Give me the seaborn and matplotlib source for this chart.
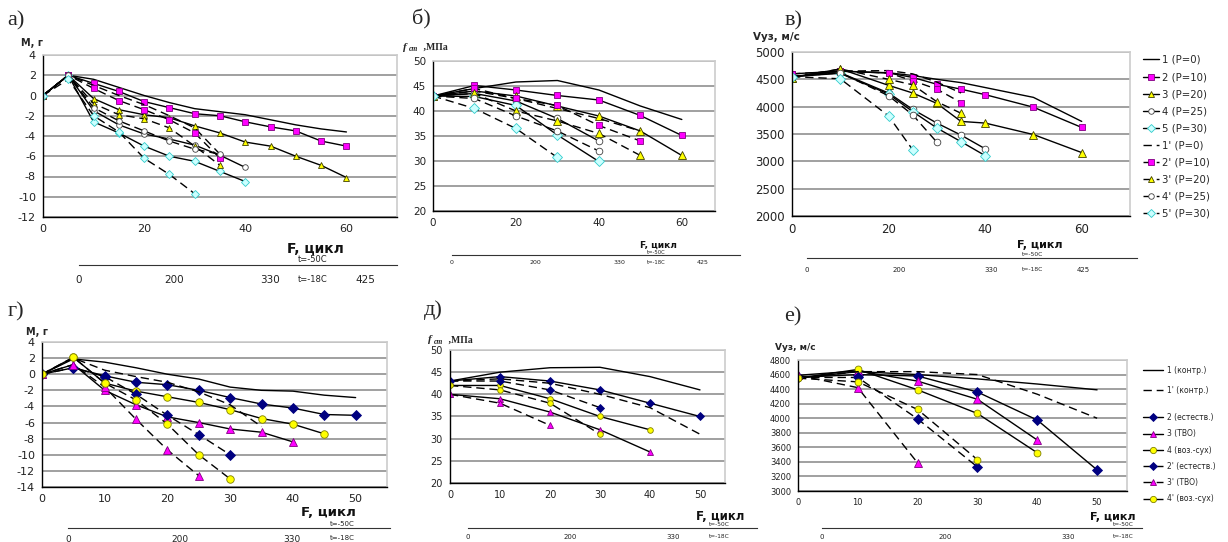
import matplotlib.pyplot as plt
import seaborn as sns
from matplotlib.lines import Line2D

# а) mass change M, г vs cycles F
a_x = [0, 5, 10, 15, 20, 25, 30, 35, 40, 45, 50, 55, 60]
a_1 = [0, 2.0, 1.6, 0.8, 0.0, -0.7, -1.3, -1.6, -1.9, -2.4, -2.9, -3.3, -3.6]
a_2 = [0, 2.0, 1.2, 0.4, -0.6, -1.2, -1.8, -2.0, -2.6, -3.1, -3.5, -4.5, -5.0]
a_3 = [0, 2.0, -0.3, -1.4, -1.9, -2.2, -3.0, -3.7, -4.6, -5.0, -6.0, -6.9, -8.1]
a_4 = [0, 2.0, -1.5, -2.9, -3.8, -4.3, -4.9, -5.9, -7.1]
a_5 = [0, 2.0, -2.6, -3.7, -5.0, -6.0, -6.5, -7.5, -8.5]
a_1d = [0, 2.0, 1.0, 0.0, -0.9, -2.0, -3.2, -5.8]
a_2d = [0, 2.0, 0.7, -0.5, -1.4, -2.4, -3.7, -6.2]
a_3d = [0, 2.0, -0.8, -1.9, -2.3, -3.2, -5.0, -6.9]
a_4d = [0, 2.0, -1.2, -2.5, -3.5, -4.5, -5.3, -5.8]
a_5d = [0, 1.6, -2.0, -3.6, -6.2, -7.8, -9.7]

# б) strength f_cm, МПа
b_x = [0, 10, 20, 30, 40, 50, 60]
b_1 = [43, 44.5, 45.8, 46.1, 44.2, 41.0, 38.3]
b_2 = [43, 45.1, 44.2, 43.1, 42.2, 39.1, 35.1]
b_3 = [43, 44.0, 43.0, 41.0, 39.0, 36.0, 31.1]
b_4 = [43, 43.5, 42.0, 38.5, 34.0]
b_5 = [43, 42.9, 41.1, 35.2, 29.9]
b_1d = [43, 44.0, 42.5, 40.5, 38.5, 36.0]
b_2d = [43, 44.5, 42.5, 41.1, 37.1, 34.0]
b_3d = [43, 43.5, 40.0, 38.0, 35.5, 31.1]
b_4d = [43, 42.5, 39.0, 36.0, 32.0]
b_5d = [43, 40.5, 36.5, 30.7]

# в) ultrasonic velocity Vуз, м/с
v_x = [0, 10, 20, 25, 30, 35, 40, 50, 60]
v_1 = [4550, 4650, 4620, 4570, 4500, 4440, 4350, 4170, 3730]
v_2 = [4600, 4650, 4615, 4535, 4410, 4320, 4220, 3990, 3620]
v_3 = [4530, 4690, 4390, 4250, 4060, 3730, 3700, 3490, 3160]
v_4 = [4550, 4620, 4250, 3950, 3700, 3480, 3230]
v_5 = [4550, 4610, 4230, 3910, 3610, 3360, 3105]
v_1d = [4550, 4650, 4660, 4600, 4450, 4250]
v_2d = [4600, 4650, 4615, 4475, 4320, 4075]
v_3d = [4530, 4690, 4500, 4400, 4090, 3880]
v_4d = [4550, 4620, 4200, 3850, 3350]
v_5d = [4550, 4510, 3830, 3210]

# г) mass change, curing modes
g_x = [0, 5, 10, 15, 20, 25, 30, 35, 40, 45, 50]
g_1 = [0, 1.9, 1.5, 0.8, 0.0, -0.6, -1.6, -2.0, -2.1, -2.6, -2.9]
g_2 = [0, 0.8, -0.2, -1.0, -1.3, -2.0, -2.9, -3.7, -4.2, -5.0, -5.1]
g_3 = [0, 1.2, -2.0, -3.8, -5.3, -6.0, -6.8, -7.2, -8.4]
g_4 = [0, 2.1, -1.1, -2.1, -2.8, -3.5, -4.4, -5.5, -6.2, -7.4]
g_1d = [0, 2.0, 0.5, -0.3, -1.0, -2.2, -3.8, -6.5]
g_2d = [0, 0.8, -0.3, -2.5, -5.1, -7.5, -10.0]
g_3d = [0, 1.2, -1.6, -5.6, -9.4, -12.6]
g_4d = [0, 2.1, -1.1, -3.2, -6.2, -10.0, -13.0]

# д) strength, curing modes
d_x = [0, 10, 20, 30, 40, 50]
d_1 = [43, 45, 46, 46.1, 44, 41]
d_2 = [43, 44, 43, 41, 38, 35]
d_3 = [40, 39, 36, 32, 27]
d_4 = [42, 42, 39, 35, 32]
d_1d = [43, 43.5, 42.5, 40, 37, 31]
d_2d = [43, 43, 41, 37]
d_3d = [40, 38, 33]
d_4d = [42, 41, 38, 31]

# е) ultrasonic velocity, curing modes
e_x = [0, 10, 20, 30, 40, 50]
e_1 = [4550, 4640, 4600, 4540, 4470, 4390]
e_2 = [4560, 4600, 4580, 4360, 3975, 3290]
e_3 = [4590, 4650, 4510, 4260, 3700]
e_4 = [4550, 4670, 4390, 4065, 3525]
e_1d = [4550, 4640, 4640, 4600, 4330, 4000]
e_2d = [4560, 4560, 3990, 3330]
e_3d = [4590, 4420, 3385]
e_4d = [4550, 4500, 4120, 3430]

v_labels = ['1 (P=0)', '2 (P=10)', '3 (P=20)', '4 (P=25)', '5 (P=30)',
            "1' (P=0)", "2' (P=10)", "3' (P=20)", "4' (P=25)", "5' (P=30)"]
e_labels1 = ['1 (контр.)', "1' (контр.)"]
e_labels2 = ['2 (естеств.)', '3 (ТВО)', '4 (воз.-сух)',
             "2' (естеств.)", "3' (ТВО)", "4' (воз.-сух)"]
cyc_top = ['0', '200', '330', '425']
cyc_bot = ['0', '200', '330']

sns.set_style('white')
plt.rcParams['font.family'] = ['DejaVu Sans']
plt.rcParams['axes.unicode_minus'] = False

W, H = 1228, 542
fig = plt.figure(figsize=(W / 100, H / 100), dpi=100)

DASH = (0, (6, 3.5))
top_sty = {
    '1': dict(marker=None),
    '2': dict(marker='s', markersize=4, markerfacecolor='#FF00FF', markeredgecolor='#800080'),
    '3': dict(marker='^', markersize=4.5, markerfacecolor='#FFFF00', markeredgecolor='#404000'),
    '4': dict(marker='o', markersize=4, markerfacecolor='white', markeredgecolor='#404040'),
    '5': dict(marker='D', markersize=4, markerfacecolor='#CCFFFF', markeredgecolor='#33CCCC'),
}
bot_sty = {
    '1': dict(marker=None),
    '2': dict(marker='D', markersize=4.5, markerfacecolor='#000080', markeredgecolor='#000080'),
    '3': dict(marker='^', markersize=5, markerfacecolor='#FF00FF', markeredgecolor='#800080'),
    '4': dict(marker='o', markersize=4.5, markerfacecolor='#FFFF00', markeredgecolor='#808000'),
}


def px_axes(l, t, r, b):
    return fig.add_axes([l / W, 1 - b / H, (r - l) / W, (b - t) / H])


def T(x, y, s, **kw):
    kw.setdefault('ha', 'center')
    kw.setdefault('va', 'center')
    fig.text(x / W, 1 - y / H, s, **kw)


def panel(box, xs, series, sty, xlim, ylim, xt, yt, fs, scale=1.0):
    ax = px_axes(*box)
    for key, ys, dashed in series:
        st = dict(sty[key])
        if st.get('markersize'):
            st['markersize'] *= scale
        sns.lineplot(x=xs[:len(ys)], y=ys, ax=ax, color='black', lw=1.0,
                     linestyle=DASH if dashed else '-', markeredgewidth=0.6,
                     errorbar=None, **st)
    ax.set_xlim(*xlim)
    ax.set_ylim(*ylim)
    ax.set_xticks(xt)
    ax.set_yticks(yt)
    ax.set_xlabel('')
    ax.set_ylabel('')
    ax.yaxis.grid(True, color='#999999', lw=1.3)
    ax.set_axisbelow(True)
    for s in ['left', 'bottom']:
        ax.spines[s].set_color('black')
        ax.spines[s].set_linewidth(1.0)
    for s in ['top', 'right']:
        ax.spines[s].set_color('#cccccc')
        ax.spines[s].set_linewidth(1.2)
    ax.tick_params(direction='out', length=3, width=0.8, labelsize=fs,
                   colors='#222222', pad=2)
    return ax


def sec_axis(l, r, y, t0, step, labels, fs, pad_px, tfs=None):
    tfs = tfs or fs * 0.9
    ax = px_axes(l, y - 10, r, y)
    ax.set_xlim((l - t0) / step, (r - t0) / step)
    ax.set_ylim(0, 1)
    for s in ['top', 'left', 'right']:
        ax.spines[s].set_visible(False)
    ax.spines['bottom'].set_color('#333333')
    ax.spines['bottom'].set_linewidth(0.8)
    ax.set_xticks(range(len(labels)))
    ax.set_xticklabels(labels)
    ax.set_yticks([])
    ax.patch.set_visible(False)
    ax.tick_params(axis='x', direction='in', length=4, width=0.8,
                   labelsize=fs, pad=pad_px * 0.72, colors='#222222')
    ax.text(2.45, -pad_px / 10, 't=-18C', fontsize=tfs, ha='center',
            va='top', color='#222222', transform=ax.get_xaxis_transform())
    ax.text(2.45, 0.05, 't=-50C', fontsize=tfs, ha='center',
            va='bottom', color='#222222', transform=ax.get_xaxis_transform())
    return ax


def cyc_label(x, y, fs):
    T(x, y, 'F, цикл', fontsize=fs, fontweight='bold', color='#111111')


def fcm_label(x, y, fs):
    T(x, y, 'f', fontsize=fs + 1, fontweight='bold', style='italic',
      family='Liberation Serif', ha='left')
    T(x + 6, y + 2, 'cm', fontsize=fs - 1.5, fontweight='bold', style='italic',
      family='Liberation Serif', ha='left')
    T(x + 18, y, ' ,МПа', fontsize=fs, fontweight='bold',
      family='Liberation Serif', ha='left')


def legend_handles(labels, sty):
    hs = []
    for lab in labels:
        hs.append(Line2D([], [], color='black', lw=1.0,
                         linestyle=DASH if "'" in lab else '-',
                         markeredgewidth=0.6, **sty[lab[0]]))
    return hs


# ---------- а)
panel((43, 55, 397, 217), a_x,
      [('1', a_1, False), ('2', a_2, False), ('3', a_3, False), ('4', a_4, False),
       ('5', a_5, False), ('1', a_1d, True), ('2', a_2d, True), ('3', a_3d, True),
       ('4', a_4d, True), ('5', a_5d, True)],
      top_sty, (0, 70), (-12, 4), [0, 20, 40, 60], range(-12, 5, 2), 8)
T(16, 21, 'а)', fontsize=16, family='Liberation Serif')
T(32, 43, 'М, г', fontsize=7, fontweight='bold')
cyc_label(315, 249, 10)
sec_axis(79, 397, 265, 79, 95.3, cyc_top, 7.5, 10, 6)

# ---------- б)
panel((433, 61, 715, 211), b_x,
      [('1', b_1, False), ('2', b_2, False), ('3', b_3, False), ('4', b_4, False),
       ('5', b_5, False), ('1', b_1d, True), ('2', b_2d, True), ('3', b_3d, True),
       ('4', b_4d, True), ('5', b_5d, True)],
      top_sty, (0, 68), (20, 50), [0, 20, 40, 60], range(20, 51, 5), 7.5, 1.2)
T(421, 19, 'б)', fontsize=16, family='Liberation Serif')
fcm_label(403, 47, 7)
cyc_label(658, 245, 6.5)
sec_axis(452, 740, 255, 452, 83.5, cyc_top, 4.5, 5, 3.8)

# ---------- в)
panel((792, 52, 1130, 216), v_x,
      [('1', v_1, False), ('2', v_2, False), ('3', v_3, False), ('4', v_4, False),
       ('5', v_5, False), ('1', v_1d, True), ('2', v_2d, True), ('3', v_3d, True),
       ('4', v_4d, True), ('5', v_5d, True)],
      top_sty, (0, 70), (2000, 5000), [0, 20, 40, 60], range(2000, 5001, 500), 8.5, 1.2)
T(794, 21, 'в)', fontsize=16, family='Liberation Serif')
T(776, 37, 'Vуз, м/с', fontsize=7.5, fontweight='bold')
cyc_label(1040, 245, 8)
sec_axis(807, 1137, 258, 807, 92, cyc_top, 5, 9, 4.3)

fig.legend(legend_handles(v_labels, top_sty), v_labels, loc='upper left',
           bbox_to_anchor=(1143 / W, 1 - 55 / H), frameon=False, fontsize=7.3,
           handlelength=1.6, labelspacing=0.7, borderaxespad=0, borderpad=0,
           handletextpad=0.25)

# ---------- г)
panel((42, 342, 387, 487), g_x,
      [('1', g_1, False), ('2', g_2, False), ('3', g_3, False), ('4', g_4, False),
       ('1', g_1d, True), ('2', g_2d, True), ('3', g_3d, True), ('4', g_4d, True)],
      bot_sty, (0, 55), (-14, 4), range(0, 51, 10), range(-14, 5, 2), 8, 1.2)
T(16, 312, 'г)', fontsize=16, family='Liberation Serif')
T(37, 332, 'М, г', fontsize=7, fontweight='bold')
cyc_label(328, 513, 9.5)
sec_axis(68, 390, 528, 68, 112, cyc_bot, 6.5, 7, 5)

# ---------- д)
panel((450, 350, 725, 483), d_x,
      [('1', d_1, False), ('2', d_2, False), ('3', d_3, False), ('4', d_4, False),
       ('1', d_1d, True), ('2', d_2d, True), ('3', d_3d, True), ('4', d_4d, True)],
      bot_sty, (0, 55), (20, 50), range(0, 51, 10), range(20, 51, 5), 7, 0.9)
T(433, 310, 'д)', fontsize=16, family='Liberation Serif')
fcm_label(428, 340, 7)
cyc_label(720, 516, 8.5)
sec_axis(468, 757, 528, 468, 102.5, cyc_bot, 5, 6, 4.2)

# ---------- е)
panel((798, 360, 1127, 491), e_x,
      [('1', e_1, False), ('2', e_2, False), ('3', e_3, False), ('4', e_4, False),
       ('1', e_1d, True), ('2', e_2d, True), ('3', e_3d, True), ('4', e_4d, True)],
      bot_sty, (0, 55), (3000, 4800), range(0, 51, 10), range(3000, 4801, 200), 6, 1.1)
T(793, 317, 'е)', fontsize=16, family='Liberation Serif')
T(795, 348, 'Vуз, м/с', fontsize=6.5, fontweight='bold')
cyc_label(1113, 517, 8)
sec_axis(822, 1142, 528, 822, 123, cyc_bot, 5, 6, 4.2)

fig.legend(legend_handles(e_labels1, bot_sty), e_labels1, loc='upper left',
           bbox_to_anchor=(1143 / W, 1 - 366 / H), frameon=False, fontsize=5.5,
           handlelength=2.6, labelspacing=1.45, borderaxespad=0, borderpad=0,
           handletextpad=0.5)
fig.legend(legend_handles(e_labels2, bot_sty), e_labels2, loc='upper left',
           bbox_to_anchor=(1143 / W, 1 - 413 / H), frameon=False, fontsize=5.5,
           handlelength=2.6, labelspacing=0.95, borderaxespad=0, borderpad=0,
           handletextpad=0.5)

fig.savefig('out.png', dpi=100)
